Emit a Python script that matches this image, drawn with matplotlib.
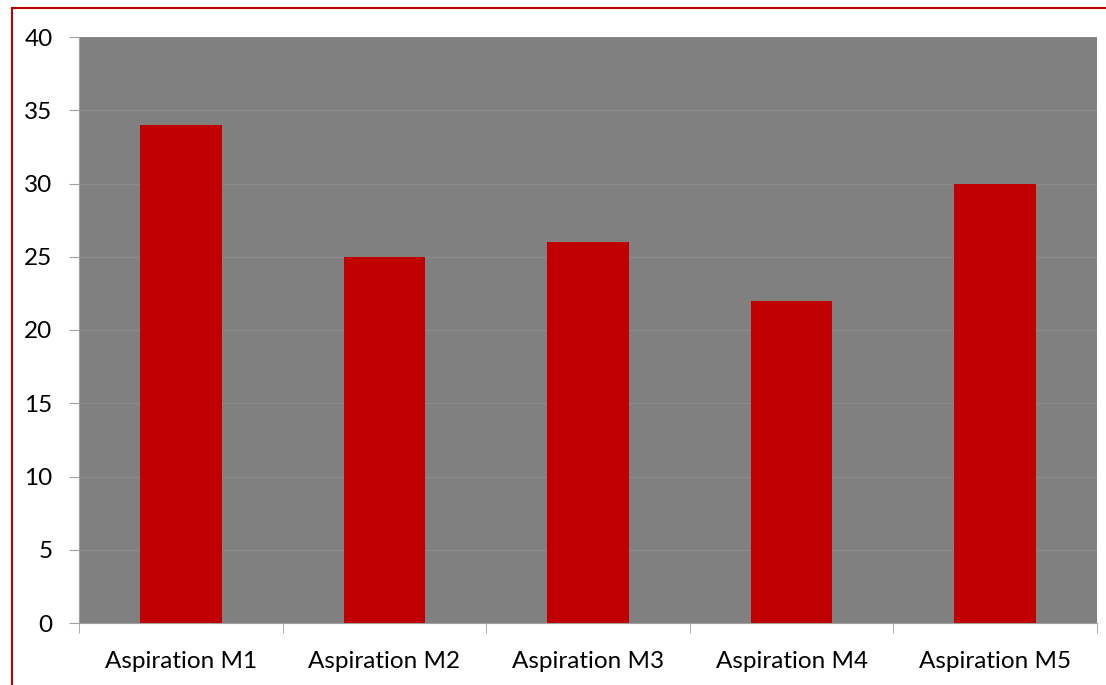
import matplotlib.pyplot as plt
import numpy as np
from matplotlib.patches import Rectangle

# Data
categories = ['Aspiration M1', 'Aspiration M2', 'Aspiration M3', 'Aspiration M4', 'Aspiration M5']
values = [34, 25, 26, 22, 30]
y_ticks = [0, 5, 10, 15, 20, 25, 30, 35, 40]

plt.rcParams['font.family'] = ['Lato', 'DejaVu Sans']
plt.rcParams['font.size'] = 17.5

fig = plt.figure(figsize=(11.06, 6.85), dpi=100)
ax = fig.add_axes([79 / 1106, 1 - 623 / 685, (1097 - 79) / 1106, (623 - 37) / 685])

# red frame around the chart (right and bottom fall outside the image)
fig.patches.append(Rectangle((11.5 / 1106, -0.1), 1.2, 1 - 7.5 / 685 + 0.1,
                             transform=fig.transFigure, fill=False,
                             edgecolor='#c00000', linewidth=1.5))

x = np.arange(len(categories))
ax.set_facecolor('#808080')
ax.bar(x, values, width=0.4, color='#c00000', zorder=3)

ax.set_xlim(-0.5, len(categories) - 0.5)
ax.set_ylim(0, 40)
ax.set_yticks(y_ticks)
ax.grid(axis='y', color='#8a8a8a', linewidth=1, zorder=0)

ax.set_xticks(x)
ax.set_xticklabels(categories)
ax.set_xticks(np.arange(len(categories) + 1) - 0.5, minor=True)
ax.tick_params(axis='x', which='major', length=0, pad=20)
ax.tick_params(axis='x', which='minor', length=7, color='#a0a0a0', direction='out')
ax.tick_params(axis='y', length=7, color='#a0a0a0', pad=12)

for side in ['top', 'right']:
    ax.spines[side].set_visible(False)
ax.spines['left'].set_color('#a0a0a0')
ax.spines['bottom'].set_color('#a0a0a0')

fig.savefig('out.png', dpi=100)
